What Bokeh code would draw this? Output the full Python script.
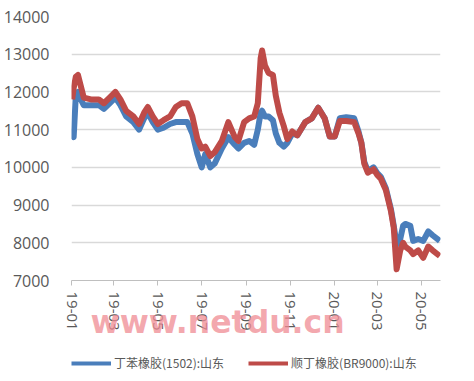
import math
import pandas as pd
from bokeh.plotting import figure
from bokeh.layouts import column
from bokeh.models import (ColumnDataSource, FixedTicker, DatetimeTickFormatter,
                          Range1d, Legend, LegendItem)
from bokeh.embed import file_html
from bokeh.resources import INLINE

dates = ["2019-01-02", "2019-01-04", "2019-01-07", "2019-01-10", "2019-01-14", "2019-01-18",
         "2019-01-28", "2019-02-08", "2019-02-15", "2019-02-23", "2019-03-03", "2019-03-10",
         "2019-03-18", "2019-03-28", "2019-04-05", "2019-04-12", "2019-04-17", "2019-04-24",
         "2019-05-01", "2019-05-09", "2019-05-18", "2019-05-26", "2019-06-03", "2019-06-11",
         "2019-06-18", "2019-06-25", "2019-07-01", "2019-07-06", "2019-07-13", "2019-07-19",
         "2019-07-29", "2019-08-07", "2019-08-16", "2019-08-21", "2019-08-29", "2019-09-05",
         "2019-09-12", "2019-09-17", "2019-09-21", "2019-09-23", "2019-09-27", "2019-10-02",
         "2019-10-08", "2019-10-12", "2019-10-17", "2019-10-23", "2019-10-28", "2019-11-04",
         "2019-11-11", "2019-11-22", "2019-12-01", "2019-12-10", "2019-12-19", "2019-12-26",
         "2020-01-02", "2020-01-09", "2020-01-18", "2020-01-29", "2020-02-04", "2020-02-08",
         "2020-02-12", "2020-02-17", "2020-02-25", "2020-03-01", "2020-03-06", "2020-03-13",
         "2020-03-20", "2020-03-24", "2020-03-28", "2020-04-02", "2020-04-06", "2020-04-09",
         "2020-04-16", "2020-04-20", "2020-04-27", "2020-05-04", "2020-05-11", "2020-05-17",
         "2020-05-27"]

sbr_1502 = [10850, 10800, 11900, 12000, 11800, 11650,
            11650, 11650, 11550, 11700, 11850, 11650,
            11350, 11200, 11000, 11300, 11450, 11200,
            11000, 11050, 11150, 11200, 11200, 11200,
            10900, 10350, 10000, 10350, 10000, 10100,
            10500, 10800, 10600, 10500, 10650, 10700,
            10600, 11000, 11450, 11500, 11350, 11350,
            11250, 10900, 10650, 10550, 10650, 10900,
            10850, 11200, 11300, 11580, 11300, 10820,
            10820, 11300, 11330, 11300, 10950, 10650,
            10150, 9900, 10000, 9850, 9750, 9450,
            8900, 8450, 7950, 8100, 8450, 8500,
            8450, 8050, 8100, 8050, 8300, 8200,
            8050]

br_9000 = [11800, 12100, 12400, 12450, 12150, 11850,
           11800, 11800, 11700, 11850, 12000, 11800,
           11500, 11350, 11150, 11450, 11600, 11350,
           11150, 11250, 11350, 11600, 11700, 11700,
           11350, 10750, 10500, 10550, 10300, 10400,
           10700, 11200, 10800, 10700, 11200, 11300,
           11350, 11700, 12900, 13100, 12700, 12500,
           12450, 11900, 11450, 11100, 10750, 10950,
           10850, 11200, 11300, 11580, 11300, 10820,
           10820, 11230, 11230, 11200, 10900, 10650,
           10100, 9860, 9950, 9800, 9700, 9400,
           8850, 8400, 7300, 7800, 8000, 7900,
           7800, 7700, 7800, 7600, 7900, 7800,
           7650]

x_start = "2019-01-01"
x_end = "2020-05-28"
tick_dates = ["2019-01-01", "2019-03-01", "2019-05-01", "2019-07-01", "2019-09-01",
              "2019-11-01", "2020-01-01", "2020-03-01", "2020-05-01"]
y_ticks = [7000, 8000, 9000, 10000, 11000, 12000, 13000, 14000]
series_names = ["丁苯橡胶(1502):山东", "顺丁橡胶(BR9000):山东"]
colors = ["#4A7EBB", "#BE4B48"]
watermark = "www.netdu.cn"

src = ColumnDataSource(dict(x=pd.to_datetime(dates), a=sbr_1502, b=br_9000))

p = figure(width=458, height=350, output_backend="svg", toolbar_location=None,
           x_axis_type="datetime",
           x_range=Range1d(pd.Timestamp(x_start), pd.Timestamp(x_end)),
           y_range=Range1d(7000, 14000),
           min_border_left=64, min_border_right=18, min_border_top=16, min_border_bottom=70)
p.outline_line_color = None
p.background_fill_color = "white"
p.border_fill_color = "white"

r1 = p.line("x", "a", source=src, line_color=colors[0], line_width=6, line_join="round")
r2 = p.line("x", "b", source=src, line_color=colors[1], line_width=6, line_join="round")

# x axis (watermark carried as its axis label, overlapping the tick labels)
p.xaxis.ticker = FixedTicker(ticks=[pd.Timestamp(d).value / 1e6 for d in tick_dates])
p.xaxis.formatter = DatetimeTickFormatter(days="%y-%m", months="%y-%m", years="%y-%m")
p.xaxis.major_label_orientation = -math.pi / 2
p.xaxis.axis_line_color = "#BFBFBF"
p.xaxis.major_tick_line_color = "#BFBFBF"
p.xaxis.major_tick_out = 5
p.xaxis.major_tick_in = 0
p.xaxis.minor_tick_line_color = None
p.xaxis.major_label_text_font = "Open Sans"
p.xaxis.major_label_text_font_size = "15px"
p.xaxis.major_label_text_color = "#595959"
p.xaxis.major_label_standoff = 6
p.xaxis.axis_label = watermark + "\u00a0" * 7
p.xaxis.axis_label_text_font = "DejaVu Sans"
p.xaxis.axis_label_text_font_style = "bold"
p.xaxis.axis_label_text_font_size = "31.5px"
p.xaxis.axis_label_text_color = "#F08C94"
p.xaxis.axis_label_text_alpha = 0.75
p.xaxis.axis_label_standoff = -30

p.yaxis.ticker = FixedTicker(ticks=y_ticks)
p.yaxis.axis_line_color = None
p.yaxis.major_tick_line_color = None
p.yaxis.minor_tick_line_color = None
p.yaxis.major_label_text_font = "Open Sans"
p.yaxis.major_label_text_font_size = "16px"
p.yaxis.major_label_text_color = "#595959"
p.yaxis.major_label_standoff = 16

p.xgrid.grid_line_color = None
p.ygrid.ticker = FixedTicker(ticks=y_ticks)
p.ygrid.grid_line_color = "#D9D9D9"
p.ygrid.grid_line_width = 1.5

# legend strip below the chart (same series, drawn out of view; only the key shows)
p2 = figure(width=458, height=22, output_backend="svg", toolbar_location=None,
            x_axis_type="datetime",
            x_range=Range1d(pd.Timestamp(x_start), pd.Timestamp(x_end)),
            y_range=Range1d(0, 1),
            x_axis_location=None, y_axis_location=None,
            min_border_left=0, min_border_right=0, min_border_top=0, min_border_bottom=0)
p2.outline_line_color = None
p2.grid.visible = False
k1 = p2.line("x", "a", source=src, line_color=colors[0], line_width=4)
k2 = p2.line("x", "b", source=src, line_color=colors[1], line_width=4)
lg = Legend(items=[LegendItem(label=series_names[0], renderers=[k1]),
                   LegendItem(label=series_names[1], renderers=[k2])],
            location=(0, 1), orientation="horizontal", padding=0, margin=0, spacing=24,
            glyph_width=40, glyph_height=14, label_height=14, label_standoff=3,
            label_text_font="Noto Sans CJK SC", label_text_font_size="12px",
            label_text_color="#595959", background_fill_alpha=0,
            border_line_color=None)
p2.add_layout(lg, "center")

open("out.html", "w").write(file_html(column(p, p2, spacing=0), INLINE))
